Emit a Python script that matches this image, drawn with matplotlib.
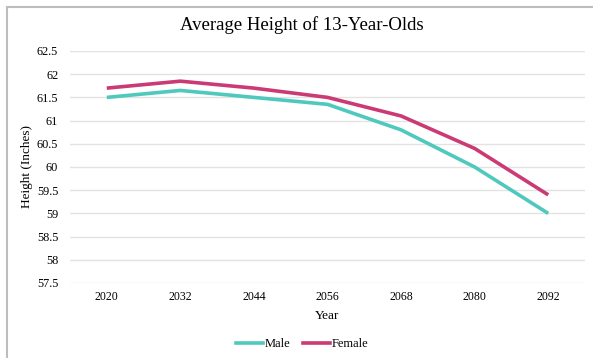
import matplotlib.pyplot as plt
from matplotlib.lines import Line2D

years = ["2020", "2032", "2044", "2056", "2068", "2080", "2092"]
male = [61.5, 61.65, 61.5, 61.35, 60.8, 60.0, 59.0]
female = [61.7, 61.85, 61.7, 61.5, 61.1, 60.4, 59.4]
y_ticks = [57.5, 58, 58.5, 59, 59.5, 60, 60.5, 61, 61.5, 62, 62.5]

male_color = "#4FC9BE"
female_color = "#CB3A74"
grid_color = "#E3E3E3"

plt.rcParams["font.family"] = ["Liberation Serif", "DejaVu Serif"]

fig = plt.figure(figsize=(5.93, 3.58), dpi=100)
ax = fig.add_axes([70 / 593, 1 - 283 / 358, 515 / 593, 232 / 358])

x = list(range(len(years)))
ax.plot(x, male, color=male_color, linewidth=2.6, label="Male", solid_capstyle="butt")
ax.plot(x, female, color=female_color, linewidth=2.6, label="Female", solid_capstyle="butt")

ax.set_xlim(-0.5, len(years) - 0.5)
ax.set_ylim(57.5, 62.5)
ax.set_yticks(y_ticks)
ax.set_yticklabels([f"{v:g}" for v in y_ticks], fontsize=8.8)
ax.set_xticks(x)
ax.set_xticklabels(years, fontsize=8.5)
ax.tick_params(axis="x", length=0, pad=6)
ax.tick_params(axis="y", length=0, pad=8.5)
ax.yaxis.grid(True, color=grid_color, linewidth=1)
ax.set_axisbelow(True)
for s in ax.spines.values():
    s.set_visible(False)

ax.set_xlabel("Year", fontsize=9.5, labelpad=5)
ax.set_ylabel("Height (Inches)", fontsize=9.5)
ax.yaxis.set_label_coords((33 - 70) / 515, 0.5)
fig.text(302 / 593, 1 - 25 / 358, "Average Height of 13-Year-Olds",
         ha="center", va="center", fontsize=13.5)

handles = [Line2D([], [], color=male_color, linewidth=2.6),
           Line2D([], [], color=female_color, linewidth=2.6)]
fig.legend(handles, ["Male", "Female"], loc="center", bbox_to_anchor=(302 / 593, 1 - 344 / 358),
           ncol=2, frameon=False, fontsize=9, handlelength=2.2, handletextpad=0.1,
           columnspacing=1.0)

# grey frame on top and left
fig.add_artist(Line2D([7 / 593, 7 / 593], [0, 1 - 7 / 358], transform=fig.transFigure,
                      color="#BDBDBD", linewidth=1.5))
fig.add_artist(Line2D([7 / 593, 1], [1 - 7 / 358, 1 - 7 / 358], transform=fig.transFigure,
                      color="#BDBDBD", linewidth=1.5))

fig.savefig("out.png", dpi=100)
